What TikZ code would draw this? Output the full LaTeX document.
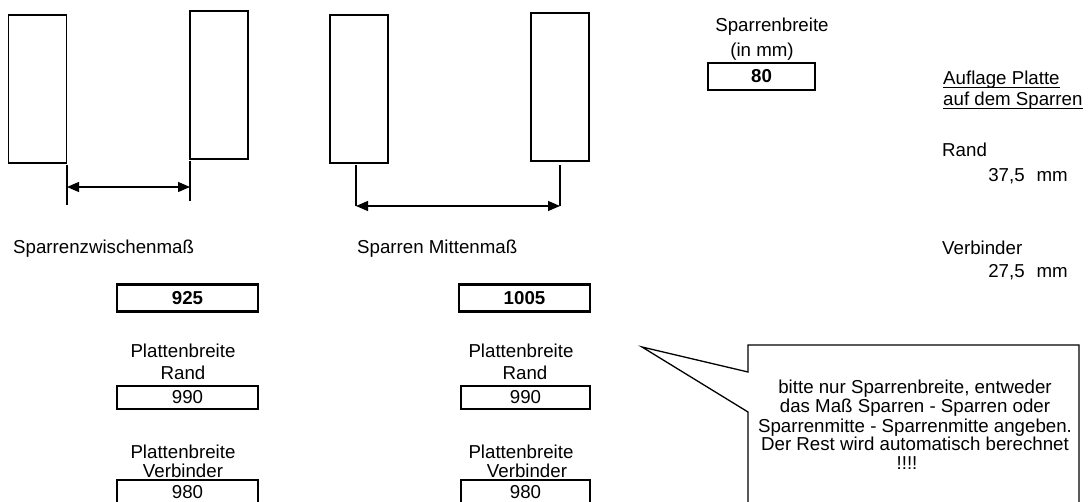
\documentclass[tikz,border=0pt]{standalone}
\usepackage{fontspec}
\setmainfont{Liberation Sans}
\usetikzlibrary{arrows.meta,calc}
\begin{document}
\begin{tikzpicture}[x=1pt,y=-1pt,
  every node/.style={inner sep=0pt, font=\fontsize{18.7}{19}\selectfont},
  beam/.style={draw, line width=1.2pt, minimum width=58pt, minimum height=148pt},
  extline/.style={line width=1.1pt},
  dimarrow/.style={line width=1.2pt, {Triangle[length=12pt,width=10pt]}-{Triangle[length=12pt,width=10pt]}},
  inbox/.style={draw, line width=2.8pt, minimum height=27pt, font=\fontsize{18.7}{19}\selectfont\bfseries},
  outbox/.style={draw, line width=1.2pt},
  lbl/.style={anchor=base},
  lblw/.style={anchor=base west},
  lble/.style={anchor=base east},
  callout/.style={line width=1.3pt, line join=miter}
]
\useasboundingbox (0,0) rectangle (1090,502);

% beams (rafters)
\node[beam] (b1) at (37.5,89) {};
\node[beam] (b2) at (219,85) {};
\node[beam] (b3) at (359,89) {};
\node[beam] (b4) at (560,87) {};

% extension lines and dimension arrows
\coordinate (e1t) at (67,165);  \coordinate (e1b) at (67,205);
\coordinate (e2t) at (190,161); \coordinate (e2b) at (190,201);
\coordinate (d1a) at (67,187);  \coordinate (d1b) at (190,187);
\draw[extline] (e1t) -- (e1b);
\draw[extline] (e2t) -- (e2b);
\draw[dimarrow] (d1a) -- (d1b);

\coordinate (e3t) at (356,165); \coordinate (e3b) at (356,206);
\coordinate (e4t) at (560,165); \coordinate (e4b) at (560,206);
\draw[extline] (e3t) -- (e3b);
\draw[extline] (e4t) -- (e4b);
\draw[dimarrow] (e3b) -- (e4b);

% labels under beams
\node[lblw] (lzw) at (13,254) {Sparrenzwischenmaß};
\node[lblw] (lmi) at (357,254) {Sparren Mittenmaß};

% left column
\node[inbox, minimum width=141pt] (v925) at (187.5,298) {925};
\node[lbl] (pb1) at (183,358) {Plattenbreite};
\node[lbl] (r1) at (183,380) {Rand};
\node[outbox, minimum width=141pt, minimum height=23pt] (v990a) at (187.5,397.5) {990};
\node[lbl] (pb2) at (183,458) {Plattenbreite};
\node[lbl] (vb1) at (183,478) {Verbinder};
\node[outbox, minimum width=141pt, minimum height=24pt] (v980a) at (187.5,492) {980};

% right column
\node[inbox, minimum width=131pt] (v1005) at (524.5,298) {1005};
\node[lbl] (pb3) at (521,358) {Plattenbreite};
\node[lbl] (r2) at (525,380) {Rand};
\node[outbox, minimum width=129pt, minimum height=23pt] (v990b) at (525.5,397.5) {990};
\node[lbl] (pb4) at (521,458) {Plattenbreite};
\node[lbl] (vb2) at (527,478) {Verbinder};
\node[outbox, minimum width=129pt, minimum height=24pt] (v980b) at (525.5,492) {980};

% rafter width input
\node[lbl] (sb) at (772,32) {Sparrenbreite};
\node[lbl] (inmm) at (762,57) {(in mm)};
\node[inbox, minimum width=107pt] (v80) at (761.5,76.5) {80};

% support on rafter
\node[lblw] (au1) at (943,85) {Auflage Platte};
\node[lblw] (au2) at (943,106) {auf dem Sparren};
\draw[line width=1.2pt] ($(au1.base west)+(0,2.5)$) -- ($(au1.base east)+(0,2.5)$);
\draw[line width=1.2pt] ($(au2.base west)+(0,2.5)$) -- ($(au2.base east)+(0,2.5)$);
\node[lblw] (rr) at (942,157) {Rand};
\node[lble] (rrv) at (1068,182) {37,5\hspace{12pt}mm};
\node[lblw] (vv) at (942,255) {Verbinder};
\node[lble] (vvv) at (1068,278) {27,5\hspace{12pt}mm};

% callout
\coordinate (tip) at (642,347);
\coordinate (cn1) at (748,372);
\coordinate (cn2) at (748,412);
\coordinate (ctl) at (748,345);
\coordinate (ctr) at (1079,345);
\coordinate (cbl) at (748,502);
\coordinate (cbr) at (1079,502);
\draw[callout] (cbl) -- (cn2) -- (tip) -- (cn1) -- (ctl) -- (ctr) -- (cbr);
\node[lbl] (c1) at (915,394) {bitte nur Sparrenbreite, entweder};
\node[lbl] (c2) at (915,413) {das Maß Sparren - Sparren oder};
\node[lbl] (c3) at (915,432) {Sparrenmitte - Sparrenmitte angeben.};
\node[lbl] (c4) at (915,450) {Der Rest wird automatisch berechnet};
\node[lbl] (c5) at (907,470) {!!!!};
\end{tikzpicture}
\end{document}
